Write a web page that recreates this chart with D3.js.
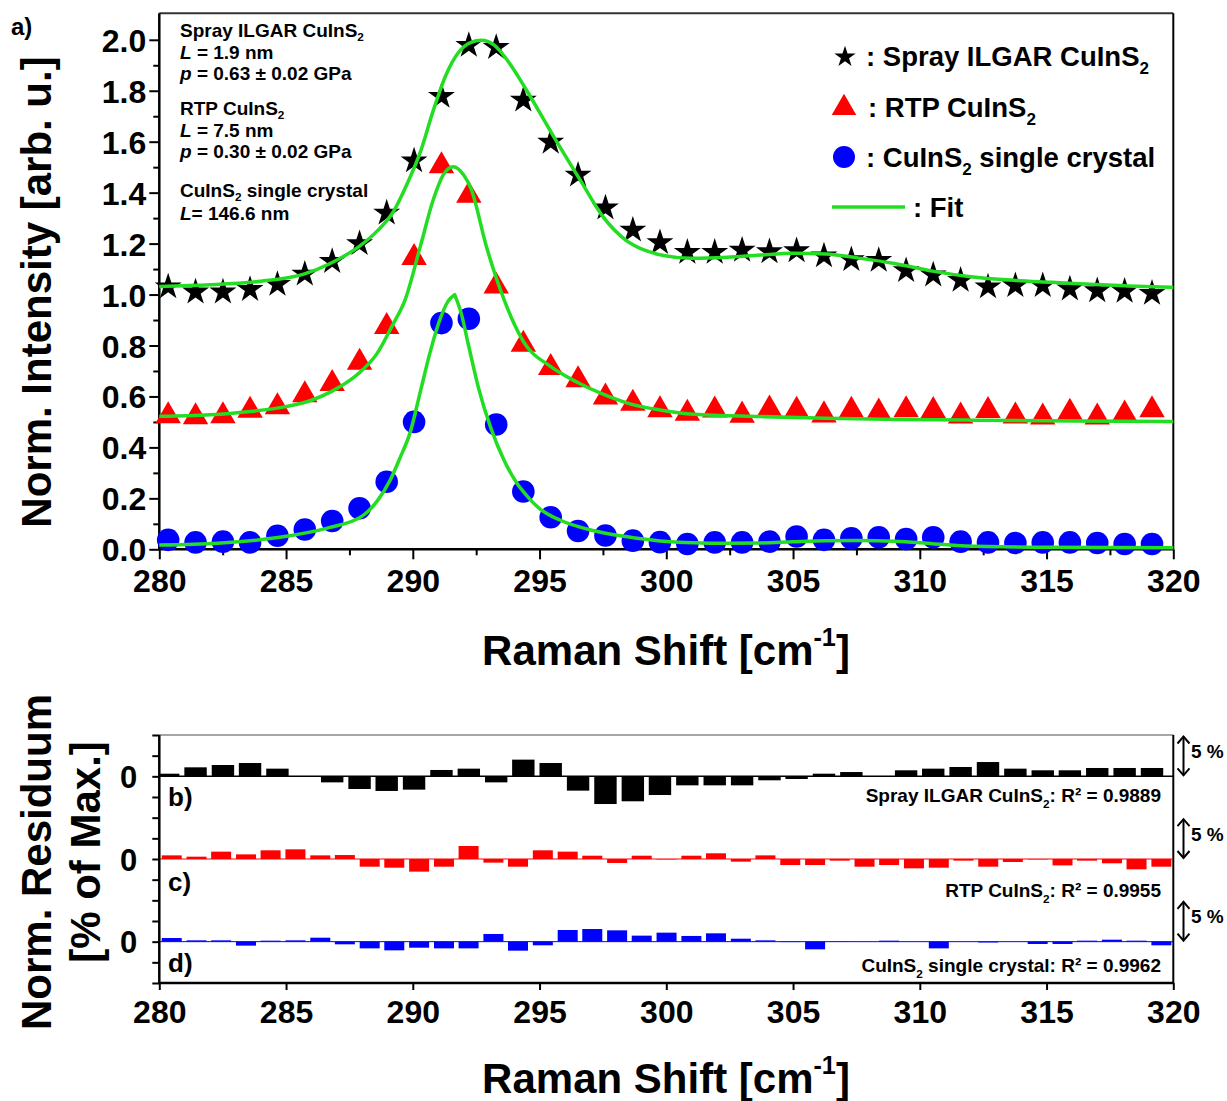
<!DOCTYPE html>
<html><head><meta charset="utf-8">
<script src="https://cdn.jsdelivr.net/npm/d3@7"></script>
<style>
body{margin:0;background:#fff}
svg{display:block}
text{font-family:"Liberation Sans",Arial,sans-serif;font-weight:bold;fill:#000;white-space:pre}
</style>
</head><body>
<svg id="c" width="1227" height="1101"></svg>
<script>
// ---------------- DATA ----------------
const ramanShift = [280.35,281.43,282.51,283.58,284.66,285.74,286.82,287.90,288.97,290.05,291.13,292.21,293.29,294.36,295.44,296.52,297.60,298.68,299.75,300.83,301.91,302.99,304.07,305.14,306.22,307.30,308.38,309.46,310.53,311.61,312.69,313.77,314.85,315.92,317.00,318.08,319.16];
const sprayILGAR = [1.03,1.01,1.01,1.02,1.04,1.08,1.13,1.20,1.32,1.525,1.778,1.978,1.97,1.763,1.598,1.469,1.34,1.253,1.204,1.166,1.166,1.174,1.168,1.172,1.152,1.137,1.134,1.094,1.077,1.056,1.03,1.035,1.035,1.022,1.015,1.013,1.005];
const rtp = [0.524,0.52,0.524,0.545,0.559,0.606,0.65,0.734,0.874,1.145,1.505,1.389,1.033,0.804,0.713,0.665,0.597,0.573,0.547,0.533,0.546,0.526,0.55,0.545,0.527,0.545,0.538,0.547,0.544,0.523,0.544,0.523,0.519,0.537,0.519,0.53,0.547];
const singleCrystal = [0.037,0.027,0.03,0.027,0.053,0.078,0.111,0.161,0.265,0.50,0.888,0.905,0.49,0.227,0.126,0.072,0.054,0.034,0.028,0.021,0.027,0.027,0.03,0.05,0.037,0.043,0.047,0.04,0.047,0.03,0.027,0.025,0.027,0.027,0.025,0.021,0.021];

const fitSpray = [[280,1.032],[282,1.038],[284,1.052],[285.7,1.08],[286.8,1.125],[287.9,1.19],[288.6,1.25],[289.2,1.32],[289.8,1.44],[290.3,1.56],[290.8,1.72],[291.3,1.86],[291.8,1.95],[292.3,1.99],[292.7,1.998],[293.2,1.98],[293.8,1.91],[294.5,1.80],[295.5,1.63],[296.6,1.45],[297.5,1.306],[298.4,1.214],[299.2,1.172],[299.9,1.153],[301.0,1.142],[302.4,1.146],[303.7,1.155],[305.0,1.162],[306.3,1.159],[307.6,1.143],[309.0,1.122],[310.5,1.092],[312.0,1.07],[313.7,1.056],[315.2,1.048],[316.7,1.04],[318.2,1.034],[320,1.028]];
const fitRTP = [[280,0.522],[282,0.528],[283.5,0.54],[285,0.56],[286,0.585],[286.8,0.62],[287.8,0.685],[288.6,0.77],[289.2,0.88],[289.7,0.98],[290.3,1.19],[290.8,1.37],[291.2,1.47],[291.6,1.502],[292.0,1.47],[292.3,1.415],[292.9,1.19],[293.6,0.98],[294.4,0.81],[295.4,0.72],[296.5,0.655],[297.6,0.605],[298.6,0.57],[299.75,0.547],[301.1,0.53],[303.7,0.521],[306.3,0.514],[309,0.51],[312,0.507],[316,0.504],[320,0.502]];
const fitCrystal = [[280,0.017],[282.3,0.024],[284.6,0.045],[286.7,0.085],[288.0,0.13],[288.6,0.19],[289.1,0.27],[289.5,0.36],[289.9,0.46],[290.3,0.62],[290.7,0.78],[291.1,0.91],[291.4,0.975],[291.65,1.0],[291.9,0.93],[292.2,0.8],[292.6,0.63],[293.1,0.47],[293.6,0.35],[294.1,0.26],[294.5,0.21],[295.0,0.16],[295.8,0.115],[297.1,0.074],[298.4,0.05],[299.75,0.033],[301.1,0.026],[302.4,0.024],[303.7,0.025],[305.0,0.03],[306.3,0.034],[307.6,0.035],[309.0,0.032],[310.5,0.022],[311.8,0.013],[315,0.008],[320,0.006]];

// residuals (% of max)
const resShiftRB = [280.49,281.47,282.44,283.42,284.39,285.37,286.35,287.32,288.30,289.27,290.25,291.23,292.20,293.18,294.15,295.13,296.11,297.08,298.06,299.03,300.01,300.99,301.96,302.94,303.91,304.89,305.87,306.84,307.82,308.79,309.77,310.75,311.72,312.70,313.67,314.65,315.63,316.60,317.58,318.55,319.53];
const resSpray = [0.32,1.09,1.37,1.61,0.93,0.0,-0.73,-1.53,-1.77,-1.61,0.77,0.93,-0.73,2.02,1.61,-1.73,-3.35,-3.02,-2.26,-1.09,-1.09,-1.09,-0.48,-0.32,0.32,0.52,0.0,0.73,0.93,1.13,1.73,0.93,0.73,0.73,1.01,1.01,1.01];
const resRTP = [0.44,0.28,0.89,0.56,1.05,1.17,0.44,0.48,-0.93,-1.05,-1.53,-0.93,1.57,-0.44,-0.93,1.05,0.89,0.40,-0.48,0.40,-0.05,0.40,0.69,-0.32,0.44,-0.73,-0.73,-0.2,-0.93,-0.73,-1.13,-1.05,-0.2,-0.93,-0.36,-0.05,-0.77,-0.2,-0.52,-1.25,-0.93];
const resCrystal = [0.44,0.16,0.16,-0.48,0.12,0.16,0.48,-0.32,-0.81,-1.05,-0.73,-0.81,-0.81,0.93,-1.09,-0.44,1.41,1.53,1.37,0.73,1.09,0.69,1.01,0.36,0.16,-0.05,-0.93,0.02,0.0,0.12,0.0,-0.81,0.0,-0.1,0.0,-0.28,-0.28,0.12,0.24,0.12,-0.44];
const r2Labels = ["0.9889","0.9955","0.9962"];

const xMajor = [280,285,290,295,300,305,310,315,320];
const xMinor = [282.5,287.5,292.5,297.5,302.5,307.5,312.5,317.5];
const yMajor = [0,0.2,0.4,0.6,0.8,1.0,1.2,1.4,1.6,1.8,2.0];
const yMinor = [0.1,0.3,0.5,0.7,0.9,1.1,1.3,1.5,1.7,1.9];
const resTicks = [-5,-2.5,0,2.5,5,7.5,10,12.5,15,17.5,20,22.5,25];
const resLabelTicks = [0,10,20];

const cBlack="#000000", cRed="#ff0000", cBlue="#0000ff", cGreen="#22dd22";

// ---------------- SCALES ----------------
const svg = d3.select("#c");
const X0=159.3, X1=1173.3;
const x = d3.scaleLinear().domain([280,320]).range([X0,X1]);
const y = d3.scaleLinear().domain([0,2.104]).range([549.3,13.3]);
const yr = d3.scaleLinear().domain([-5,25]).range([983,735]);

function rich(t, parts, fs, subShift){
  let shift=0;
  const ss = subShift==null?0.3:subShift;
  parts.forEach(p=>{
    const s=p[0], k=p[1]||'n';
    let target=0, size=fs;
    if(k==='sub'){target=fs*ss; size=fs*0.62;}
    if(k==='sup'){target=-fs*0.45; size=fs*0.6;}
    const ts=t.append('tspan').text(s).style('font-size',size+'px');
    if(k==='i') ts.style('font-style','italic');
    if(Math.abs(target-shift)>1e-6){ts.attr('dy',target-shift); shift=target;}
  });
}

// ---------------- MAIN PANEL ----------------
svg.append("line").attr("x1",X0).attr("x2",X1).attr("y1",y.range()[1]).attr("y2",y.range()[1]).attr("stroke","#333").attr("stroke-width",2);
svg.append("line").attr("x1",X1).attr("x2",X1).attr("y1",y.range()[1]).attr("y2",y(0)).attr("stroke","#000").attr("stroke-width",2);

const gxMin = svg.append("g").attr("transform",`translate(0,${y(0)})`).call(d3.axisBottom(x).tickValues(xMinor).tickSize(6).tickSizeOuter(0).tickFormat(""));
const gx = svg.append("g").attr("transform",`translate(0,${y(0)})`).call(d3.axisBottom(x).tickValues(xMajor).tickSize(10).tickSizeOuter(0).tickFormat(d3.format("d")));
const gyMin = svg.append("g").attr("transform",`translate(${X0},0)`).call(d3.axisLeft(y).tickValues(yMinor).tickSize(6).tickSizeOuter(0).tickFormat(""));
const gy = svg.append("g").attr("transform",`translate(${X0},0)`).call(d3.axisLeft(y).tickValues(yMajor).tickSize(10).tickSizeOuter(0).tickFormat(d3.format(".1f")));
[gxMin,gx,gyMin,gy].forEach(g=>{g.select(".domain").remove(); g.selectAll("line").attr("stroke","#000").attr("stroke-width",2);});
gx.selectAll("text").attr("y",43).attr("dy",0).style("font-size","32px");
gy.selectAll("text").attr("x",-13).attr("dy","0.36em").style("font-size","32px");
svg.append("line").attr("x1",X0).attr("x2",X1).attr("y1",y(0)).attr("y2",y(0)).attr("stroke","#000").attr("stroke-width",2.5);
svg.append("line").attr("x1",X0).attr("x2",X0).attr("y1",y.range()[1]).attr("y2",y(0)).attr("stroke","#000").attr("stroke-width",2.5);

// markers
const pts = ramanShift.map((v,i)=>({x:v, s:sprayILGAR[i], r:rtp[i], c:singleCrystal[i]}));
svg.append("g").selectAll("circle").data(pts).join("circle")
  .attr("cx",d=>x(d.x)).attr("cy",d=>y(d.c)).attr("r",11.3).attr("fill",cBlue);
const triSym = d3.symbol(d3.symbolTriangle,280);
svg.append("g").selectAll("path").data(pts).join("path")
  .attr("d",triSym).attr("transform",d=>`translate(${x(d.x)},${y(d.r)})`).attr("fill",cRed);
const starSym = d3.symbol(d3.symbolStar,225);
svg.append("g").selectAll("path").data(pts).join("path")
  .attr("d",starSym).attr("transform",d=>`translate(${x(d.x)},${y(d.s)})`).attr("fill",cBlack);

// fits
const line = d3.line().x(d=>x(d[0])).y(d=>y(d[1])).curve(d3.curveMonotoneX);
[fitSpray, fitRTP].forEach(f=>{
  svg.append("path").attr("d",line(f)).attr("fill","none").attr("stroke",cGreen).attr("stroke-width",3.5).attr("stroke-linejoin","round");
});
{
  const k = d3.maxIndex(fitCrystal,d=>d[1]);
  const dd = line(fitCrystal.slice(0,k+1)) + line(fitCrystal.slice(k)).replace(/^M/,"L");
  svg.append("path").attr("d",dd).attr("fill","none").attr("stroke",cGreen).attr("stroke-width",3.5).attr("stroke-linejoin","round");
}

// legend
const leg = svg.append("g");
leg.append("path").attr("d",d3.symbol(d3.symbolStar,140)).attr("transform","translate(845,57)").attr("fill",cBlack);
leg.append("path").attr("d",d3.symbol(d3.symbolTriangle,260)).attr("transform","translate(844,108)").attr("fill",cRed);
leg.append("circle").attr("cx",844).attr("cy",157).attr("r",11).attr("fill",cBlue);
leg.append("line").attr("x1",832).attr("x2",905).attr("y1",207).attr("y2",207).attr("stroke",cGreen).attr("stroke-width",3.5);
rich(leg.append("text").attr("x",866).attr("y",66), [[": Spray ILGAR CuInS"],["2","sub"]], 27.5);
rich(leg.append("text").attr("x",868).attr("y",117), [[": RTP CuInS"],["2","sub"]], 27.5);
rich(leg.append("text").attr("x",866).attr("y",167), [[": CuInS"],["2","sub"],[" single crystal"]], 27.5);
rich(leg.append("text").attr("x",913).attr("y",217), [[": Fit"]], 27.5);

// annotation
const ann = [
 [37,[["Spray ILGAR CuInS"],["2","sub"]]],
 [58.5,[["L","i"],[" = 1.9 nm"]]],
 [80,[["p","i"],[" = 0.63 ± 0.02 GPa"]]],
 [115,[["RTP CuInS"],["2","sub"]]],
 [136.5,[["L","i"],[" = 7.5 nm"]]],
 [158,[["p","i"],[" = 0.30 ± 0.02 GPa"]]],
 [196.5,[["CuInS"],["2","sub"],[" single crystal"]]],
 [219.5,[["L","i"],["= 146.6 nm"]]]
];
ann.forEach(a=>rich(svg.append("text").attr("x",180).attr("y",a[0]), a[1], 19, 0.22));

svg.append("text").attr("x",11).attr("y",35).style("font-size","24px").text("a)");

// axis titles
rich(svg.append("text").attr("text-anchor","middle").attr("transform","translate(51,292) rotate(-90)"), [["Norm. Intensity [arb. u.]"]], 42);
rich(svg.append("text").attr("text-anchor","middle").attr("x",666).attr("y",665), [["Raman Shift [cm"],["-1","sup"],["]"]], 42);

// ---------------- RESIDUAL PANEL ----------------
svg.append("line").attr("x1",X0).attr("x2",X1).attr("y1",yr(25)).attr("y2",yr(25)).attr("stroke","#888").attr("stroke-width",1.5);
svg.append("line").attr("x1",X1).attr("x2",X1).attr("y1",yr(25)).attr("y2",yr(-5)).attr("stroke","#000").attr("stroke-width",2);

svg.append("defs").append("clipPath").attr("id","rc").append("rect").attr("x",X0).attr("y",yr(25)).attr("width",X1-X0).attr("height",yr(-5)-yr(25));
const rg = svg.append("g").attr("clip-path","url(#rc)");
const resSeries = [
  {xs:ramanShift, v:resSpray, off:20, col:cBlack, w:22.4, zc:"#000", zw:1.5},
  {xs:resShiftRB, v:resRTP, off:10, col:cRed, w:20, zc:cRed, zw:1},
  {xs:resShiftRB, v:resCrystal, off:0, col:cBlue, w:20, zc:cBlue, zw:1}
];
resSeries.forEach(s=>{
  rg.append("line").attr("x1",X0).attr("x2",X1).attr("y1",yr(s.off)).attr("y2",yr(s.off)).attr("stroke",s.zc).attr("stroke-width",s.zw);
  rg.append("g").selectAll("rect").data(s.v.map((v,i)=>[s.xs[i],v])).join("rect")
    .attr("x",d=>x(d[0])-s.w/2).attr("width",s.w)
    .attr("y",d=>Math.min(yr(s.off+d[1]),yr(s.off)))
    .attr("height",d=>Math.abs(yr(s.off+d[1])-yr(s.off)))
    .attr("fill",s.col);
});

const grx = svg.append("g").attr("transform",`translate(0,${yr(-5)})`).call(d3.axisBottom(x).tickValues(xMajor).tickSize(7).tickSizeOuter(0).tickFormat(d3.format("d")));
const gry = svg.append("g").attr("transform",`translate(${X0},0)`).call(d3.axisLeft(yr).tickValues(resTicks).tickSize(7).tickSizeOuter(0).tickFormat(d=>resLabelTicks.includes(d)?"0":""));
[grx,gry].forEach(g=>{g.select(".domain").remove(); g.selectAll("line").attr("stroke","#000").attr("stroke-width",2);});
grx.selectAll("text").attr("y",40).attr("dy",0).style("font-size","32px");
gry.selectAll("text").attr("x",-22).attr("dy","0.36em").style("font-size","31px");
svg.append("line").attr("x1",X0).attr("x2",X1).attr("y1",yr(-5)).attr("y2",yr(-5)).attr("stroke","#000").attr("stroke-width",2.5);
svg.append("line").attr("x1",X0).attr("x2",X0).attr("y1",yr(25)).attr("y2",yr(-5)).attr("stroke","#000").attr("stroke-width",2.5);

// panel letters + R2
const panelTxt = [
  {l:"b)", ly:806, parts:[["Spray ILGAR CuInS"],["2","sub"],[": R² = "+r2Labels[0]]], ry:802},
  {l:"c)", ly:891, parts:[["RTP CuInS"],["2","sub"],[": R² = "+r2Labels[1]]], ry:897},
  {l:"d)", ly:972, parts:[["CuInS"],["2","sub"],[" single crystal: R² = "+r2Labels[2]]], ry:972}
];
panelTxt.forEach(p=>{
  svg.append("text").attr("x",168).attr("y",p.ly).style("font-size","26px").text(p.l);
  rich(svg.append("text").attr("x",1161).attr("y",p.ry).attr("text-anchor","end"), p.parts, 19);
});

// 5 % arrows
resSeries.forEach(s=>{
  const ax=1183.5, t=yr(s.off+5)+1.5, b=yr(s.off)-1;
  const g=svg.append("g").attr("stroke","#000").attr("stroke-width",2).attr("fill","none");
  g.append("line").attr("x1",ax).attr("x2",ax).attr("y1",t).attr("y2",b);
  g.append("polyline").attr("points",`${ax-6},${t+7} ${ax},${t} ${ax+6},${t+7}`);
  g.append("polyline").attr("points",`${ax-6},${b-7} ${ax},${b} ${ax+6},${b-7}`);
  svg.append("text").attr("x",1191).attr("y",(t+b)/2+2).style("font-size","19px").text("5 %");
});

rich(svg.append("text").attr("text-anchor","middle").attr("transform","translate(51,862) rotate(-90)"), [["Norm. Residuum"]], 42);
rich(svg.append("text").attr("text-anchor","middle").attr("transform","translate(100,852) rotate(-90)"), [["[% of Max.]"]], 42);
rich(svg.append("text").attr("text-anchor","middle").attr("x",666).attr("y",1093), [["Raman Shift [cm"],["-1","sup"],["]"]], 42);
</script>
</body></html>
